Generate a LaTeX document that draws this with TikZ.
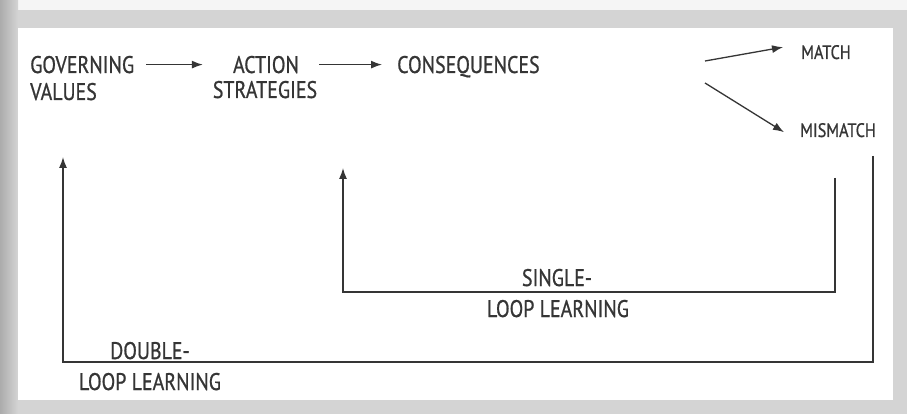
\documentclass[tikz,border=0pt]{standalone}
\usepackage{fontspec}
\setmainfont[FakeStretch=0.83,FakeBold=0.8]{PT Sans}
\usetikzlibrary{arrows.meta}

\definecolor{ink}{HTML}{353535}
\definecolor{scan}{HTML}{D4D4D4}
\definecolor{edge}{HTML}{ACACAC}

\begin{document}
\begin{tikzpicture}[x=1pt,y=-1pt,
  lbl/.style={inner sep=0pt,text=ink,font=\fontsize{24}{24}\selectfont},
  small/.style={lbl,font=\fontsize{19.5}{19.5}\selectfont},
  arr/.style={draw=ink,line width=1.3pt,-{Latex[length=11pt,width=8pt]}}]

  % page
  \fill[scan] (0,0) rectangle (907,414);
  \fill[black!4] (0,0) rectangle (907,10);
  \shade[left color=edge,right color=scan] (0,0) rectangle (18,414);
  \fill[white] (18,28) rectangle (893,400);
  \useasboundingbox (0,0) rectangle (907,414);

  \node[lbl,anchor=base west] (gov) at (30,73) {GOVERNING};
  \node[lbl,anchor=base west] (val) at (30,100) {VALUES};
  \node[lbl,anchor=base] (act) at (266,73) {ACTION};
  \node[lbl,anchor=base] (str) at (265,98) {STRATEGIES};
  \node[lbl,anchor=base west] (cons) at (397,73) {CONSEQUENCES};
  \node[small,anchor=base west] (match) at (801,59) {MATCH};
  \node[small,anchor=base west] (mis) at (800,137) {MISMATCH};

  \draw[arr] ([xshift=12pt]gov.east) -- ([xshift=-30pt]act.west);
  \draw[arr] ([xshift=20pt]act.east) -- ([xshift=-15pt]act.east -| cons.west);

  \coordinate (fm) at (705,61);
  \coordinate (fx) at (705,83);
  \draw[arr] (fm) -- ([shift={(-18,-5)}]match.west);
  \draw[arr] (fx) -- ([shift={(-16,2)}]mis.west);

  % single loop
  \coordinate (s1) at (835,178);
  \coordinate (s2) at (343,168);
  \draw[arr] (s1) -- ++(0,114) -| (s2);
  \node[lbl,anchor=base] (sgl) at (557,286) {SINGLE-};
  \node[lbl,anchor=base] (sll) at (558,317) {LOOP LEARNING};

  % double loop
  \coordinate (d1) at (873,156);
  \coordinate (d2) at (63,157);
  \draw[arr] (d1) -- ++(0,206) -| (d2);
  \node[lbl,anchor=base] (dbl) at (150,359) {DOUBLE-};
  \node[lbl,anchor=base] (dll) at (150,390) {LOOP LEARNING};
  %\draw[arr] (mis.south) -- (s1);

\end{tikzpicture}
\end{document}
